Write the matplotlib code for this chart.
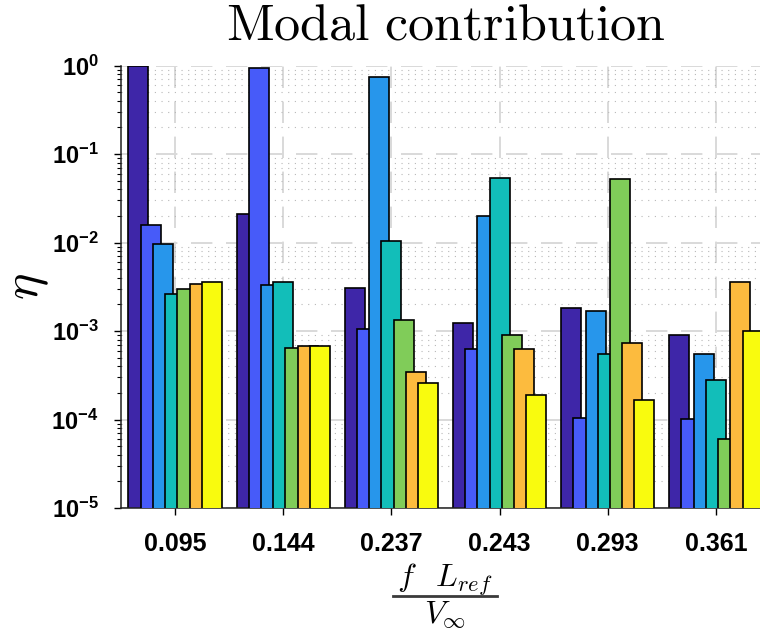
import numpy as np
import matplotlib
matplotlib.use("Agg")
import matplotlib.pyplot as plt
from matplotlib.lines import Line2D
from matplotlib.ticker import FixedLocator, FixedFormatter, LogLocator, NullFormatter

# Tick labels in bold sans, mathtext for the exponents
plt.rcParams['mathtext.fontset'] = 'custom'
plt.rcParams['mathtext.rm'] = 'Liberation Sans:bold'
plt.rcParams['mathtext.it'] = 'Liberation Sans:bold'
plt.rcParams['mathtext.bf'] = 'Liberation Sans:bold'
plt.rcParams['font.family'] = ['Liberation Sans', 'DejaVu Sans']

# Reduced frequencies (groups)
freq_labels = ['0.095', '0.144', '0.237', '0.243', '0.293', '0.361']

# Modal contribution of each mode at every frequency
mode1 = [0.99, 0.0208, 0.00304, 0.00122, 0.00182, 0.00089]
mode2 = [0.0158, 0.944, 0.00104, 0.00062, 0.000104, 0.000100]
mode3 = [0.0097, 0.00331, 0.735, 0.0199, 0.00167, 0.00055]
mode4 = [0.0026, 0.00358, 0.0105, 0.0535, 0.00055, 0.00028]
mode5 = [0.00296, 0.00065, 0.00133, 0.00089, 0.0518, 0.0000597]
mode6 = [0.0034, 0.00068, 0.000341, 0.00062, 0.00073, 0.0036]
mode7 = [0.00358, 0.00068, 0.00026, 0.000188, 0.000166, 0.00101]
modes = [mode1, mode2, mode3, mode4, mode5, mode6, mode7]

# parula colours
colors = ['#3E26A8', '#475BF9', '#2796EB', '#12BEB9', '#80CC59', '#FCBB3E', '#F9FB0E']

ytick_vals = [1e-5, 1e-4, 1e-3, 1e-2, 1e-1, 1e0]
ytick_labels = ['$10^{-5}$', '$10^{-4}$', '$10^{-3}$', '$10^{-2}$', '$10^{-1}$', '$10^{0}$']

W, H = 760, 637
fig = plt.figure(figsize=(W / 100, H / 100), dpi=100)
ax = fig.add_axes([121 / W, 1 - 508 / H, (770 - 121) / W, (508 - 65.5) / H])

x = np.arange(1, len(freq_labels) + 1)
step = 0.113
width = 0.185
for j, (vals, c) in enumerate(zip(modes, colors)):
    ax.bar(x + (j - 3) * step, vals, width=width, bottom=1e-7, color=c,
           edgecolor='black', linewidth=1.2, zorder=2 + j)

ax.set_yscale('log')
ax.set_ylim(1e-5, 1e0)
ax.set_xlim(0.5, 6.5)

ax.yaxis.set_major_locator(FixedLocator(ytick_vals))
ax.yaxis.set_major_formatter(FixedFormatter(ytick_labels))
ax.yaxis.set_minor_locator(LogLocator(base=10, subs=np.arange(2, 10)))
ax.yaxis.set_minor_formatter(NullFormatter())
ax.set_xticks(x)
ax.set_xticklabels(freq_labels, fontsize=18, fontweight='bold')

ax.tick_params(axis='y', which='major', labelsize=17, direction='out', length=5, width=1, pad=11)
ax.tick_params(axis='y', which='minor', direction='out', length=3, width=0.8)
ax.tick_params(axis='x', which='major', direction='out', length=5, width=1, pad=12)

ax.set_axisbelow(True)
ax.grid(True, which='major', axis='both', color='#d9d9d9', linestyle=(0, (11, 7)), linewidth=1.4)
ax.grid(True, which='minor', axis='y', color='#b8b8b8', linestyle=(0, (1, 5)), linewidth=0.8)

ax.spines['top'].set_visible(False)
ax.spines['right'].set_visible(False)
for s in ('left', 'bottom'):
    ax.spines[s].set_linewidth(1.1)
    ax.spines[s].set_color('#202020')

ax.set_title(r'$\mathrm{Modal\ contribution}$', fontsize=37.5, math_fontfamily='cm', pad=19)
ax.set_ylabel(r'$\eta$', fontsize=36, math_fontfamily='cm', labelpad=0)

# x label: f L_ref / V_inf as a stacked fraction
xc = 445 / W
fig.text(xc, 1 - 587 / H, r'$f\;\;\;L_{ref}$', fontsize=23, math_fontfamily='cm',
         ha='center', va='baseline')
fig.add_artist(Line2D([393 / W, 497 / W], [1 - 596 / H, 1 - 596 / H],
                      transform=fig.transFigure, color='#3a3a3a', linewidth=2.0))
fig.text(xc, 1 - 623 / H, r'$V_{\infty}$', fontsize=23, math_fontfamily='cm',
         ha='center', va='baseline')

fig.savefig('out.png', dpi=100)
